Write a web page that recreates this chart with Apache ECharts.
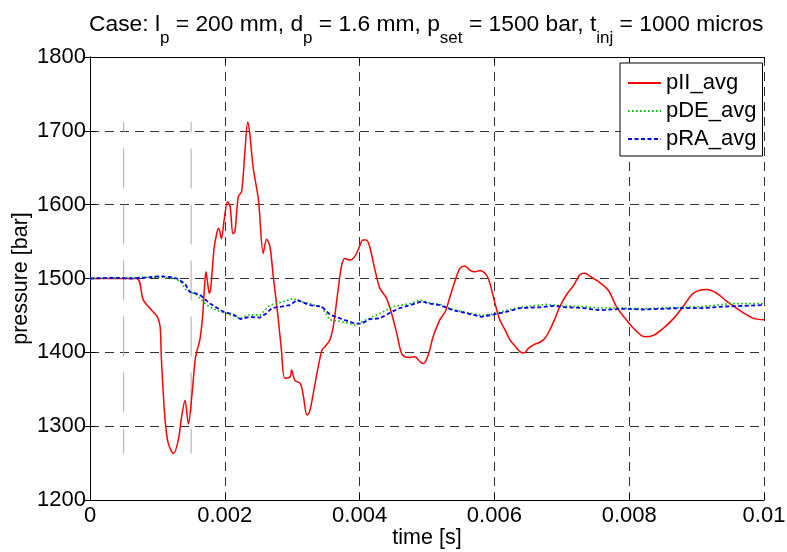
<!DOCTYPE html>
<html>
<head>
<meta charset="utf-8">
<script src="https://cdn.jsdelivr.net/npm/echarts@6/dist/echarts.min.js"></script>
<style>
html,body{margin:0;padding:0;background:#fff;}
#chart{width:787px;height:552px;}
</style>
</head>
<body>
<div id="chart"></div>
<script>
// time in ms, pressure in bar
const tII = [0,0.69,0.79,0.915,1.0,1.04,1.06,1.11,1.16,1.24,1.31,1.36,1.41,1.46,1.51,1.56,1.59,1.63,1.67,1.70,1.72,1.74,1.77,1.79,1.84,1.88,1.91,1.95,1.99,2.04,2.08,2.12,2.15,2.20,2.25,2.30,2.34,2.37,2.42,2.50,2.57,2.62,2.67,2.72,2.79,2.84,2.89,2.97,2.99,3.04,3.12,3.16,3.22,3.26,3.34,3.44,3.49,3.56,3.61,3.68,3.73,3.78,3.86,3.93,3.98,4.05,4.10,4.15,4.23,4.30,4.40,4.48,4.55,4.62,4.67,4.75,4.82,4.90,4.95,5.00,5.04,5.09,5.19,5.27,5.34,5.42,5.49,5.56,5.64,5.71,5.79,5.86,5.91,5.96,6.01,6.08,6.16,6.23,6.31,6.38,6.44,6.50,6.58,6.68,6.75,6.82,6.90,6.97,7.07,7.17,7.27,7.34,7.42,7.54,7.69,7.81,7.94,8.06,8.23,8.36,8.51,8.66,8.80,8.95,9.15,9.30,9.45,9.59,9.74,9.84,10.0];
const pII = [1500,1500,1471,1457,1448,1435,1390,1313,1277,1263,1281,1313,1335,1303,1340,1390,1403,1417,1448,1490,1509,1498,1480,1485,1540,1561,1568,1554,1579,1604,1597,1561,1563,1611,1618,1674,1712,1697,1651,1606,1534,1553,1543,1502,1448,1403,1365,1367,1376,1362,1358,1344,1315,1320,1358,1403,1408,1417,1435,1484,1516,1527,1525,1530,1539,1552,1552,1543,1511,1487,1473,1451,1426,1399,1394,1393,1394,1387,1385,1392,1403,1421,1444,1455,1475,1498,1514,1517,1511,1509,1511,1507,1500,1484,1466,1444,1430,1417,1408,1401,1399,1405,1410,1414,1419,1430,1446,1462,1478,1490,1505,1507,1503,1496,1484,1462,1446,1433,1421,1423,1433,1446,1462,1480,1485,1480,1469,1460,1451,1446,1444];

const tDE = [0,0.5,1.0,1.25,1.34,1.43,1.58,1.73,1.88,2.08,2.23,2.37,2.52,2.67,2.77,3.02,3.12,3.26,3.44,3.56,3.71,3.93,4.10,4.35,4.50,4.75,4.90,5.04,5.19,5.39,5.59,5.81,5.98,6.18,6.38,6.77,7.0,7.32,7.57,7.9,8.2,8.5,8.8,9.1,9.5,10.0];
const pDE = [1500,1501,1502,1500,1496,1484,1478,1464,1457,1451,1446,1451,1450,1464,1466,1473,1469,1466,1461,1444,1442,1437,1444,1455,1462,1466,1471,1467,1465,1458,1454,1450,1452,1457,1461,1465,1463,1462,1460,1460,1459,1460,1461,1462,1466,1466];

const tRA = [0,0.3,0.6,0.8,1.04,1.2,1.29,1.41,1.48,1.63,1.78,1.98,2.13,2.23,2.37,2.52,2.62,2.70,2.84,2.97,3.07,3.26,3.44,3.56,3.71,3.93,4.03,4.15,4.30,4.48,4.60,4.75,4.92,5.04,5.19,5.39,5.59,5.81,5.98,6.18,6.38,6.68,6.87,7.07,7.32,7.57,7.9,8.2,8.5,8.8,9.1,9.4,9.7,10.0];
const pRA = [1500,1501,1500,1501,1503,1502,1500,1493,1482,1478,1466,1455,1451,1445,1448,1447,1453,1460,1462,1464,1471,1464,1462,1451,1446,1439,1439,1445,1446,1455,1460,1464,1469,1466,1464,1457,1453,1448,1451,1455,1460,1461,1463,1461,1460,1457,1459,1458,1459,1460,1460,1462,1463,1464];

// injection markers (ms) and their vertical extent (bar)
const markerTimes = [0.5, 1.5];
const markerRange = [1263, 1712];

const seriesNames = ['pII_avg', 'pDE_avg', 'pRA_avg'];
const xTickLabels = ['0', '0.002', '0.004', '0.006', '0.008', '0.01'];

const toXY = (t, p) => t.map((v, i) => [v / 1000, p[i]]);

const FONT = 'Liberation Sans, Arial, Helvetica, sans-serif';
const chart = echarts.init(document.getElementById('chart'), null, {renderer: 'canvas'});

const markerSeries = markerTimes.map(t => ({
  type: 'line', silent: true, symbol: 'none', z: 1,
  data: markerRange.map(p => [t / 1000, p]),
  lineStyle: {color: '#a8a8a8', width: 1, type: [40, 16], dashOffset: 15}
}));

const option = {
  animation: false,
  backgroundColor: '#fff',
  title: {
    left: 84, top: 8,
    text: '{m|Case: l}{s|p}{m| = 200 mm, d}{s|p}{m| = 1.6 mm, p}{s|set}{m| = 1500 bar, t}{s|inj}{m| = 1000 micros}',
    textStyle: {
      fontWeight: 'normal',
      rich: {
        m: {fontFamily: FONT, fontSize: 22.8, fontWeight: 'normal', color: '#000', lineHeight: 26, verticalAlign: 'top'},
        s: {fontFamily: FONT, fontSize: 17, fontWeight: 'normal', color: '#000', lineHeight: 34, verticalAlign: 'bottom'}
      }
    }
  },
  legend: {
    data: seriesNames,
    orient: 'vertical',
    left: 620, top: 63,
    backgroundColor: '#fff',
    borderColor: '#000', borderWidth: 1, borderRadius: 0,
    padding: [9, 6, 6, 7],
    itemWidth: 33, itemHeight: 20, itemGap: 6,
    itemStyle: {opacity: 0},
    textStyle: {fontFamily: FONT, fontSize: 22, color: '#000', lineHeight: 20},
    z: 10
  },
  grid: {left: 90, right: 23, top: 57, bottom: 52, containLabel: false, outerBoundsMode: 'none'},
  xAxis: [{
    type: 'value', min: 0, max: 0.01, interval: 0.002,
    name: 'time [s]', nameLocation: 'middle', nameGap: 27, nameMoveOverlap: false,
    nameTextStyle: {fontFamily: FONT, fontSize: 21.5, color: '#000'},
    axisLine: {show: true, lineStyle: {color: '#000', width: 1}},
    axisTick: {show: true, inside: true, length: 6, lineStyle: {color: '#000'}},
    axisLabel: {fontFamily: FONT, fontSize: 22, color: '#000', margin: 5,
      formatter: (v) => xTickLabels[Math.round(v / 0.002)]},
    splitLine: {show: true, lineStyle: {color: '#333', width: 1, type: [9, 6]}}
  }, {
    type: 'value', position: 'top', min: 0, max: 0.01, interval: 0.002,
    axisLine: {show: true, lineStyle: {color: '#000', width: 1}},
    axisTick: {show: true, inside: true, length: 6, lineStyle: {color: '#000'}},
    axisLabel: {show: false}, splitLine: {show: false}
  }],
  yAxis: [{
    type: 'value', min: 1200, max: 1800, interval: 100,
    name: 'pressure [bar]', nameLocation: 'middle', nameGap: 58, nameMoveOverlap: false,
    nameTextStyle: {fontFamily: FONT, fontSize: 21.5, color: '#000'},
    axisLine: {show: true, lineStyle: {color: '#000', width: 1}},
    axisTick: {show: true, inside: true, length: 6, lineStyle: {color: '#000'}},
    axisLabel: {fontFamily: FONT, fontSize: 22, color: '#000', margin: 4,
      formatter: (v) => String(v)},
    splitLine: {show: true, lineStyle: {color: '#333', width: 1, type: [9, 6]}}
  }, {
    type: 'value', position: 'right', min: 1200, max: 1800, interval: 100,
    axisLine: {show: true, lineStyle: {color: '#000', width: 1}},
    axisTick: {show: true, inside: true, length: 6, lineStyle: {color: '#000'}},
    axisLabel: {show: false}, splitLine: {show: false}
  }],
  series: markerSeries.concat([
    {name: seriesNames[0], type: 'line', symbol: 'none', z: 3,
      data: toXY(tII, pII), smooth: 0.3,
      itemStyle: {color: '#ff0000'},
      lineStyle: {color: '#ff0000', width: 1.5, type: 'solid'}},
    {name: seriesNames[1], type: 'line', symbol: 'none', z: 4,
      data: toXY(tDE, pDE),
      itemStyle: {color: '#00c000'},
      lineStyle: {color: '#00c000', width: 1.6, type: [1.6, 2.4]}},
    {name: seriesNames[2], type: 'line', symbol: 'none', z: 5,
      data: toXY(tRA, pRA),
      itemStyle: {color: '#0000ff'},
      lineStyle: {color: '#0000ff', width: 1.8, type: [4, 2.5]}}
  ])
};
chart.setOption(option);
</script>
</body>
</html>
